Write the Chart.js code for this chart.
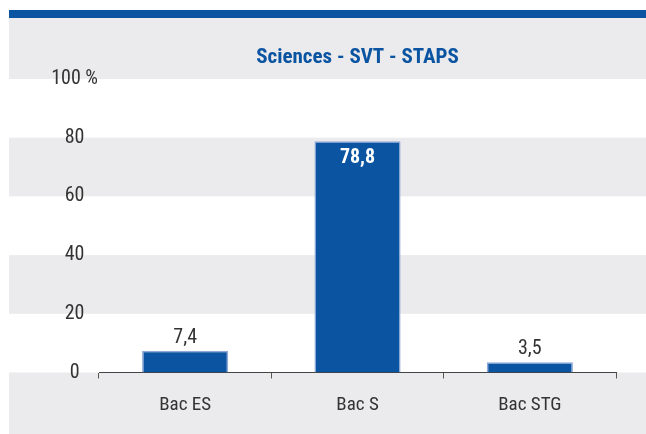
<!DOCTYPE html>
<html>
<head>
<meta charset="utf-8">
<script src="https://cdn.jsdelivr.net/npm/chart.js@4/dist/chart.umd.min.js"></script>
<style>
	html, body { margin: 0; padding: 0; background: #fff; }
	#chart { display: block; }
</style>
</head>
<body>
<canvas id="chart" width="646" height="434"></canvas>
<script>
var categories = ['Bac ES', 'Bac S', 'Bac STG'];
var values = [7.4, 78.8, 3.5];
var yTicks = [0, 20, 40, 60, 80, 100];
var chartTitle = 'Sciences - SVT - STAPS';

var BLUE = '#0b54a1';
var GRAY = '#ebebed';
var TEXT = '#333333';
var FONT = '"Roboto Condensed", "DejaVu Sans Condensed", sans-serif';

function fmt(v){
	return String(v).replace('.', ',');
}

// alternating bands behind the chart + blue strip on top
var bandsPlugin = {
	id: 'bands',
	beforeDraw: function(chart){
		var ctx = chart.ctx;
		var y = chart.scales.y;
		var left = 9, right = chart.width;
		ctx.save();
		ctx.fillStyle = BLUE;
		ctx.fillRect(left, 10, right - left, 8);
		ctx.fillStyle = GRAY;
		ctx.fillRect(left, 18, right - left, y.getPixelForValue(100) - 18);
		for(var i = 0; i < yTicks.length - 1; i++){
			if(i % 2 == 1){
				var top = y.getPixelForValue(yTicks[i + 1]);
				var bot = y.getPixelForValue(yTicks[i]);
				ctx.fillRect(left, top, right - left, bot - top);
			}
		}
		var zero = y.getPixelForValue(0);
		ctx.fillRect(left, zero, right - left, chart.height - zero);
		ctx.restore();
	}
};

var valuesPlugin = {
	id: 'values',
	afterDatasetsDraw: function(chart){
		var ctx = chart.ctx;
		var meta = chart.getDatasetMeta(0);
		ctx.save();
		ctx.textAlign = 'center';
		meta.data.forEach(function(bar, i){
			var v = values[i];
			if(v > 50){
				ctx.fillStyle = '#ffffff';
				ctx.font = 'bold 20px ' + FONT;
				ctx.textBaseline = 'top';
				ctx.fillText(fmt(v), bar.x, bar.y + 7);
			} else {
				ctx.fillStyle = TEXT;
				ctx.font = '20px ' + FONT;
				ctx.textBaseline = 'bottom';
				ctx.fillText(fmt(v), bar.x, bar.y - 3);
			}
		});
		ctx.restore();
	}
};

var config = {
	type: 'bar',
	data: {
		labels: categories,
		datasets: [
			{
				data: values,
				backgroundColor: BLUE,
				borderColor: '#8ca9d9',
				borderWidth: 1.5,
				borderSkipped: 'bottom',
				barPercentage: 0.5,
				categoryPercentage: 1
			}
		]
	},
	options: {
		responsive: false,
		animation: false,
		layout: {
			padding: { left: 0, right: 30, top: 0, bottom: 0 }
		},
		plugins: {
			legend: { display: false },
			tooltip: { enabled: false },
			title: {
				display: true,
				fullSize: false,
				text: chartTitle,
				color: BLUE,
				font: { family: FONT, size: 21, weight: 'bold' },
				padding: { top: 45, bottom: 8.8 }
			}
		},
		scales: {
			x: {
				grid: {
					display: true,
					drawOnChartArea: false,
					drawTicks: true,
					tickLength: 6,
					color: '#555'
				},
				border: { display: true, color: '#444', width: 1 },
				ticks: {
					color: TEXT,
					font: { family: FONT, size: 19 },
					padding: 15
				},
				afterFit: function(scale){ scale.height = 61.5; }
			},
			y: {
				min: 0,
				max: 100,
				afterBuildTicks: function(scale){
					scale.ticks = yTicks.map(function(v){ return { value: v }; });
				},
				grid: { display: false, drawTicks: false },
				border: { display: false },
				ticks: {
					color: TEXT,
					font: { family: FONT, size: 20 },
					crossAlign: 'center',
					padding: 1,
					callback: function(v){ return v == 100 ? '100 %' : String(v); }
				},
				afterFit: function(scale){ scale.width = 99; }
			}
		}
	},
	plugins: [bandsPlugin, valuesPlugin]
};

new Chart(document.getElementById('chart'), config);
</script>
</body>
</html>
